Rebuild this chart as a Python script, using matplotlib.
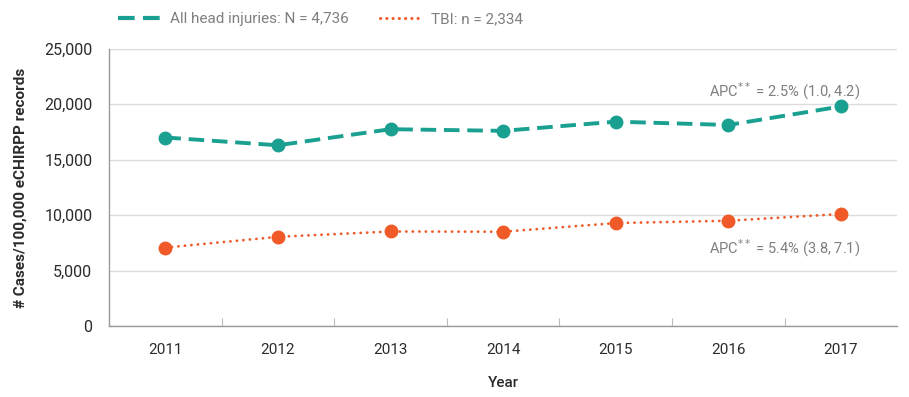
import matplotlib
matplotlib.use("Agg")
import matplotlib.pyplot as plt
from matplotlib.ticker import FuncFormatter, FixedLocator
from matplotlib.lines import Line2D

years = ["2011", "2012", "2013", "2014", "2015", "2016", "2017"]
all_head = [17000, 16300, 17750, 17600, 18430, 18130, 19800]
tbi = [7070, 8040, 8520, 8500, 9280, 9490, 10100]
yticks = [0, 5000, 10000, 15000, 20000, 25000]

plt.rcParams['font.family'] = ['Roboto', 'DejaVu Sans']

teal = '#1aa091'
orange = '#f05a28'
grid_c = '#dcdcdc'
txt_c = '#2b2b2b'
gray_txt = '#7f7f7f'

fig = plt.figure(figsize=(9.09, 3.97), dpi=100)
ax = fig.add_axes([0.12, 0.179, 0.867, 0.698])

x = list(range(len(years)))
l1, = ax.plot(x, all_head, color=teal, lw=2.8, dashes=(4.0, 2.0), marker='o',
              markersize=9, label='All head injuries: N = 4,736', zorder=3)
l2, = ax.plot(x, tbi, color=orange, lw=2.0, dashes=(0.05, 2.3), dash_capstyle='round',
              marker='o', markersize=9, label='TBI: n = 2,334', zorder=3)

ax.set_xlim(-0.5, len(years) - 0.5)
ax.set_ylim(0, 25000)
ax.set_yticks(yticks)
ax.yaxis.set_major_formatter(FuncFormatter(lambda v, p: f"{int(v):,}"))
ax.set_xticks(x)
ax.set_xticklabels(years)
ax.xaxis.set_minor_locator(FixedLocator([i + 0.5 for i in range(len(years) - 1)]))
ax.tick_params(axis='x', which='major', length=0, pad=12, labelsize=11, labelcolor=txt_c)
ax.tick_params(axis='x', which='minor', direction='in', length=6, color='#bbbbbb', width=0.8)
ax.tick_params(axis='y', length=0, pad=12, labelsize=11.5, labelcolor=txt_c)

ax.grid(axis='y', color=grid_c, lw=1)
ax.set_axisbelow(True)
for s in ['top', 'right']:
    ax.spines[s].set_visible(False)
for s in ['left', 'bottom']:
    ax.spines[s].set_color('#999999')
    ax.spines[s].set_linewidth(1)

ax.set_ylabel('# Cases/100,000 eCHIRPP records', fontsize=11, fontweight='bold',
              color=txt_c, labelpad=12)
ax.set_xlabel('Year', fontsize=11, fontweight='medium', color=txt_c, labelpad=14)

ax.text(5.5, 21200, r'APC$^{**}$ = 2.5% (1.0, 4.2)', ha='center', va='center',
        fontsize=10.5, color=gray_txt)
ax.text(5.5, 7000, r'APC$^{**}$ = 5.4% (3.8, 7.1)', ha='center', va='center',
        fontsize=10.5, color=gray_txt)

h1 = Line2D([], [], color=teal, lw=3, dashes=(4.0, 2.0))
h2 = Line2D([], [], color=orange, lw=2.2, dashes=(0.05, 2.0), dash_capstyle='round')
fig.legend([h1, h2], [l1.get_label(), l2.get_label()], loc='center left',
           bbox_to_anchor=(0.115, 0.952), ncol=2, frameon=False, fontsize=11,
           labelcolor=gray_txt, handlelength=2.7, columnspacing=2.0, handletextpad=0.7)

fig.savefig('out.png', dpi=100)
